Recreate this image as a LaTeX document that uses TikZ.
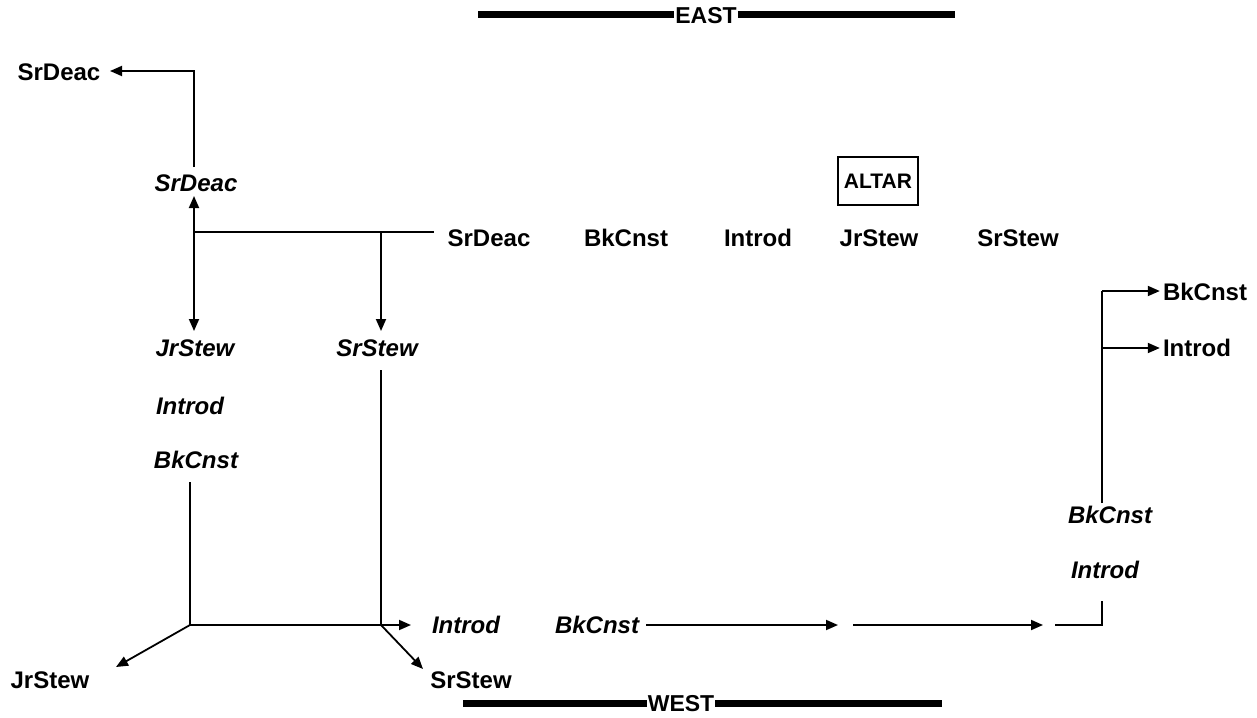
\documentclass[tikz,border=0pt]{standalone}
\usepackage{fontspec}
\setmainfont{Liberation Sans}
\usetikzlibrary{arrows.meta}
\begin{document}
\begin{tikzpicture}[x=1pt,y=-1pt,
  lbl/.style={font=\fontsize{24}{27}\selectfont\bfseries, inner sep=3pt, anchor=center},
  ilbl/.style={lbl, font=\fontsize{24}{27}\selectfont\bfseries\itshape},
  dirlbl/.style={font=\fontsize{23}{25}\selectfont\bfseries, inner sep=1pt},
  conn/.style={line width=1.8pt},
  arr/.style={conn, -{Triangle[length=12pt,width=10pt]}},
  bar/.style={line width=7pt}]
\useasboundingbox (0,0) rectangle (1257,717);

% compass bars
\node[dirlbl] (east) at (706,16) {EAST};
\coordinate (eastL) at (478,15);
\coordinate (eastR) at (955,15);
\draw[bar] (eastL) -- (eastL -| east.west);
\draw[bar] (eastR -| east.east) -- (eastR);
\node[dirlbl] (west) at (681,704) {WEST};
\coordinate (westL) at (463,703);
\coordinate (westR) at (942,703);
\draw[bar] (westL) -- (westL -| west.west);
\draw[bar] (westR -| west.east) -- (westR);

% altar and top row
\node[lbl, draw, line width=1.5pt, minimum width=80pt, minimum height=48pt, font=\fontsize{21}{24}\selectfont\bfseries] (altar) at (878,181) {ALTAR};
\node[lbl] (tSrDeac) at (489,238) {SrDeac};
\node[lbl] (tBkCnst) at (626,238) {BkCnst};
\node[lbl] (tIntrod) at (758,238) {Introd};
\node[lbl] (tJrStew) at (879,238) {JrStew};
\node[lbl] (tSrStew) at (1018,238) {SrStew};

% left column
\node[lbl] (sd0) at (59,72) {SrDeac};
\node[ilbl] (sdI) at (196,183) {SrDeac};
\node[ilbl] (jsI) at (195,348) {JrStew};
\node[ilbl] (inI) at (190,406) {Introd};
\node[ilbl] (bkI) at (196,460) {BkCnst};
\node[ilbl] (ssI) at (377,348) {SrStew};

\coordinate (jA) at (194,232);
\coordinate (jEnd) at (434,232);
\coordinate (jB) at (381,232);
\coordinate (tipL) at (110,71);
\coordinate (topV) at (194,167);

\draw[arr] (topV) |- (tipL);
\draw[conn] (jA) -- (jEnd);
\draw[arr] (jA) -- (194,196);
\draw[arr] (jA) -- (194,331);
\draw[arr] (jB) -- (381,331);

% bottom
\coordinate (bA) at (190,625);
\coordinate (bB) at (381,625);
\coordinate (vA) at (190,482);
\coordinate (vB) at (381,370);
\node[ilbl] (inB) at (466,625) {Introd};
\node[ilbl] (bkB) at (597,625) {BkCnst};
\node[lbl] (jsB) at (50,680) {JrStew};
\node[lbl] (ssB) at (471,680) {SrStew};

\draw[conn] (vA) -- (bA) -- (bB);
\draw[conn] (vB) -- (bB);
\draw[arr] (bB) -- (411,625);
\draw[arr] (bA) -- (116,667);
\draw[arr] (bB) -- (423,669);

\coordinate (m1) at (838,625);
\coordinate (m2s) at (853,625);
\coordinate (m2) at (1043,625);
\coordinate (m3s) at (1055,625);
\coordinate (m3c) at (1102,625);
\coordinate (m3e) at (1102,601);
\draw[arr] (bkB.east) ++(4,0) -- (m1);
\draw[arr] (m2s) -- (m2);
\draw[conn] (m3s) -- (m3c) -- (m3e);

% right side
\node[ilbl] (inR) at (1105,570) {Introd};
\node[ilbl] (bkR) at (1110,515) {BkCnst};
\node[lbl] (bkRb) at (1205,292) {BkCnst};
\node[lbl] (inRb) at (1197,348) {Introd};
\coordinate (rBot) at (1102,503);
\coordinate (rTop) at (1102,291);
\coordinate (rMid) at (1102,348);
\draw[conn] (rBot) -- (rTop);
\draw[arr] (rTop) -- (rTop -| bkRb.west);
\draw[arr] (rMid) -- (rMid -| inRb.west);
\end{tikzpicture}
\end{document}
